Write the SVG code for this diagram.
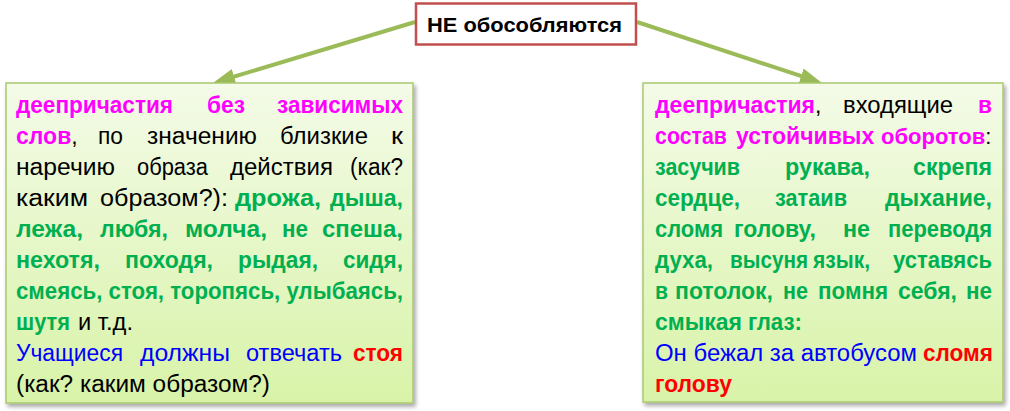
<svg xmlns="http://www.w3.org/2000/svg" width="1010" height="411" viewBox="0 0 1010 411">
<defs>
<linearGradient id="gfill" x1="0" y1="0" x2="0" y2="1">
<stop offset="0" stop-color="#f4fbe8"/>
<stop offset="1" stop-color="#d8f3a8"/>
</linearGradient>
<filter id="shadow" x="-5%" y="-5%" width="115%" height="115%">
<feDropShadow dx="2" dy="3" stdDeviation="2" flood-color="#000" flood-opacity="0.35"/>
</filter>
<marker id="arrow" markerUnits="userSpaceOnUse" markerWidth="24" markerHeight="18" refX="10" refY="8" orient="auto">
<path d="M0,0 L22,8 L0,16 z" fill="#9bbb59"/>
</marker>
<style>
text{font-family:"Liberation Sans",Arial,sans-serif;font-size:23px;fill:#000}
.b{font-weight:bold}
.m{fill:#ff00ff;font-weight:bold}
.g{fill:#00b050;font-weight:bold}
.bl{fill:#0000ff}
.r{fill:#ff0000;font-weight:bold}
.box{fill:url(#gfill);stroke:#a9c96f;stroke-width:1.5;filter:url(#shadow)}
.conn{stroke:#9bbb59;stroke-width:4;fill:none;marker-end:url(#arrow)}
</style>
</defs>
<g id="connectors">
<path class="conn" d="M415,22 L224.5,79.5"/>
<path class="conn" d="M637,22 L810.6,79.2"/>
</g>
<g id="top">
<rect x="416" y="3.5" width="220" height="41" fill="#fff" stroke="#c0504d" stroke-width="2.5"/>
<text x="427" y="32" class="b" style="font-size:21px" textLength="195" lengthAdjust="spacingAndGlyphs">НЕ обособляются</text>
</g>
<g id="left">
<rect class="box" x="6" y="83" width="407" height="320"/>
<text x="16" y="113" class="m" textLength="157" lengthAdjust="spacingAndGlyphs">деепричастия</text>
<text x="207" y="113" class="m" textLength="38" lengthAdjust="spacingAndGlyphs">без</text>
<text x="277" y="113" class="m" textLength="126" lengthAdjust="spacingAndGlyphs">зависимых</text>
<text x="16" y="144"><tspan class="m">слов</tspan>,</text>
<text x="98" y="144" textLength="25" lengthAdjust="spacingAndGlyphs">по</text>
<text x="147" y="144" textLength="110" lengthAdjust="spacingAndGlyphs">значению</text>
<text x="280" y="144" textLength="88" lengthAdjust="spacingAndGlyphs">близкие</text>
<text x="391" y="144" textLength="12" lengthAdjust="spacingAndGlyphs">к</text>
<text x="16" y="175" textLength="99" lengthAdjust="spacingAndGlyphs">наречию</text>
<text x="137" y="175" textLength="71" lengthAdjust="spacingAndGlyphs">образа</text>
<text x="230" y="175" textLength="103" lengthAdjust="spacingAndGlyphs">действия</text>
<text x="350" y="175" textLength="53" lengthAdjust="spacingAndGlyphs">(как?</text>
<text x="16" y="206" textLength="72" lengthAdjust="spacingAndGlyphs">каким</text>
<text x="100" y="206" textLength="128" lengthAdjust="spacingAndGlyphs">образом?):</text>
<text x="235" y="206" class="g" textLength="86" lengthAdjust="spacingAndGlyphs">дрожа,</text>
<text x="330" y="206" class="g" textLength="73" lengthAdjust="spacingAndGlyphs">дыша,</text>
<text x="16" y="237" class="g" textLength="67" lengthAdjust="spacingAndGlyphs">лежа,</text>
<text x="100" y="237" class="g" textLength="68" lengthAdjust="spacingAndGlyphs">любя,</text>
<text x="185" y="237" class="g" textLength="82" lengthAdjust="spacingAndGlyphs">молча,</text>
<text x="282" y="237" class="g" textLength="26" lengthAdjust="spacingAndGlyphs">не</text>
<text x="322" y="237" class="g" textLength="81" lengthAdjust="spacingAndGlyphs">спеша,</text>
<text x="16" y="268" class="g" textLength="84" lengthAdjust="spacingAndGlyphs">нехотя,</text>
<text x="125" y="268" class="g" textLength="88" lengthAdjust="spacingAndGlyphs">походя,</text>
<text x="238" y="268" class="g" textLength="80" lengthAdjust="spacingAndGlyphs">рыдая,</text>
<text x="343" y="268" class="g" textLength="60" lengthAdjust="spacingAndGlyphs">сидя,</text>
<text x="16" y="299" class="g" textLength="387" lengthAdjust="spacingAndGlyphs">смеясь, стоя, торопясь, улыбаясь,</text>
<text x="16" y="330" class="g" textLength="54" lengthAdjust="spacingAndGlyphs">шутя</text>
<text x="78" y="330" textLength="55" lengthAdjust="spacingAndGlyphs">и т.д.</text>
<text x="16" y="361" class="bl" textLength="107" lengthAdjust="spacingAndGlyphs">Учащиеся</text>
<text x="140" y="361" class="bl" textLength="90" lengthAdjust="spacingAndGlyphs">должны</text>
<text x="246" y="361" class="bl" textLength="96" lengthAdjust="spacingAndGlyphs">отвечать</text>
<text x="353" y="361" class="r" textLength="50" lengthAdjust="spacingAndGlyphs">стоя</text>
<text x="16" y="392" textLength="254" lengthAdjust="spacingAndGlyphs">(как? каким образом?)</text>
</g>
<g id="right">
<rect class="box" x="643" y="83" width="360" height="319"/>
<text x="655" y="113"><tspan class="m">деепричастия</tspan>,</text>
<text x="843" y="113" textLength="110" lengthAdjust="spacingAndGlyphs">входящие</text>
<text x="978" y="113" class="m" textLength="14" lengthAdjust="spacingAndGlyphs">в</text>
<text x="655" y="144" class="m" textLength="72" lengthAdjust="spacingAndGlyphs">состав</text>
<text x="736" y="144" class="m">устойчивых</text>
<text x="881" y="144" style="font-size:22px"><tspan class="m">оборотов</tspan>:</text>
<text x="655" y="175" class="g" textLength="85" lengthAdjust="spacingAndGlyphs">засучив</text>
<text x="785" y="175" class="g" textLength="85" lengthAdjust="spacingAndGlyphs">рукава,</text>
<text x="913" y="175" class="g" textLength="79" lengthAdjust="spacingAndGlyphs">скрепя</text>
<text x="655" y="206" class="g" textLength="85" lengthAdjust="spacingAndGlyphs">сердце,</text>
<text x="775" y="206" class="g" textLength="72" lengthAdjust="spacingAndGlyphs">затаив</text>
<text x="885" y="206" class="g" textLength="107" lengthAdjust="spacingAndGlyphs">дыхание,</text>
<text x="655" y="237" class="g" textLength="68" lengthAdjust="spacingAndGlyphs">сломя</text>
<text x="734" y="237" class="g" textLength="82" lengthAdjust="spacingAndGlyphs">голову,</text>
<text x="843" y="237" class="g" textLength="27" lengthAdjust="spacingAndGlyphs">не</text>
<text x="888" y="237" class="g" textLength="104" lengthAdjust="spacingAndGlyphs">переводя</text>
<text x="655" y="268" class="g" textLength="58" lengthAdjust="spacingAndGlyphs">духа,</text>
<text x="730" y="268" class="g" textLength="78" lengthAdjust="spacingAndGlyphs">высуня</text>
<text x="813" y="268" class="g" textLength="57" lengthAdjust="spacingAndGlyphs">язык,</text>
<text x="893" y="268" class="g" textLength="99" lengthAdjust="spacingAndGlyphs">уставясь</text>
<text x="655" y="299" class="g" textLength="13" lengthAdjust="spacingAndGlyphs">в</text>
<text x="675" y="299" class="g" textLength="98" lengthAdjust="spacingAndGlyphs">потолок,</text>
<text x="783" y="299" class="g" textLength="25" lengthAdjust="spacingAndGlyphs">не</text>
<text x="818" y="299" class="g" textLength="70" lengthAdjust="spacingAndGlyphs">помня</text>
<text x="898" y="299" class="g" textLength="59" lengthAdjust="spacingAndGlyphs">себя,</text>
<text x="966" y="299" class="g" textLength="26" lengthAdjust="spacingAndGlyphs">не</text>
<text x="655" y="330" class="g" textLength="87" lengthAdjust="spacingAndGlyphs">смыкая</text>
<text x="748" y="330" class="g" textLength="54" lengthAdjust="spacingAndGlyphs">глаз:</text>
<text x="655" y="361" class="bl" textLength="262" lengthAdjust="spacingAndGlyphs">Он бежал за автобусом</text>
<text x="923" y="361" class="r" textLength="70" lengthAdjust="spacingAndGlyphs">сломя</text>
<text x="655" y="392" class="r" textLength="77" lengthAdjust="spacingAndGlyphs">голову</text>
</g>
</svg>
